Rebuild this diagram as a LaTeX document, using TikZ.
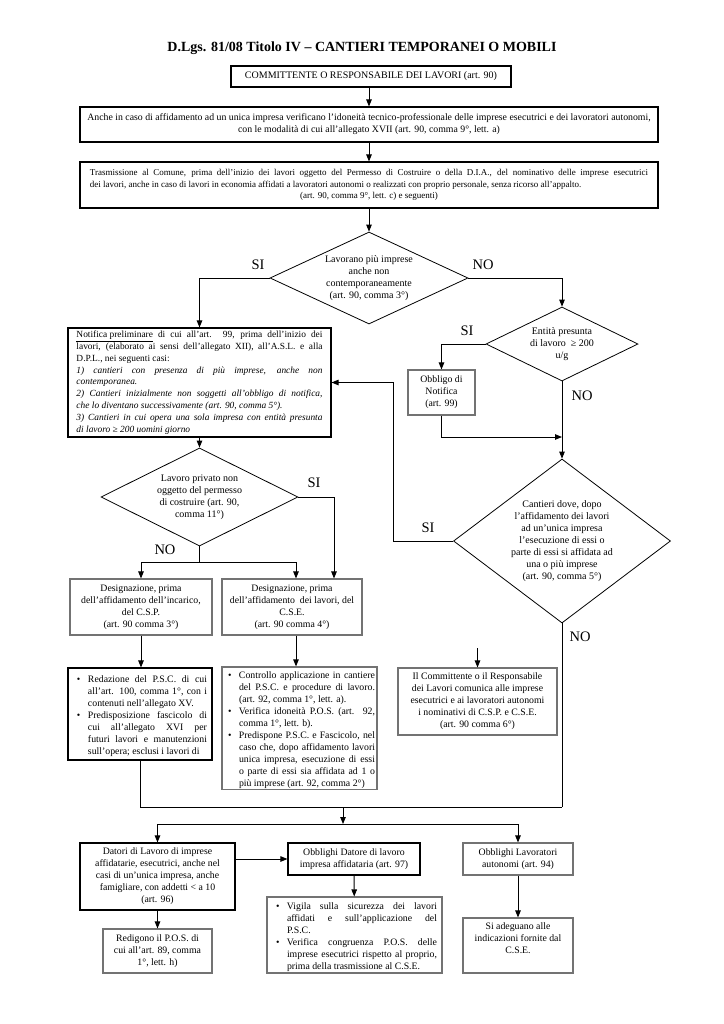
\documentclass[tikz,border=0pt]{standalone}
\usepackage{fontspec}
\setmainfont{Liberation Serif}
\usetikzlibrary{positioning,shapes.geometric,arrows.meta}

\newcommand{\txtsize}{\fontsize{9.8bp}{12bp}\selectfont}
\newcommand{\smallsize}{\fontsize{9bp}{11.6bp}\selectfont}
\newcommand{\lblsize}{\fontsize{14.5bp}{16bp}\selectfont}
\newcommand{\bitem}{\par\hangindent=15bp\hangafter=1\noindent\makebox[15bp][l]{\hspace{4bp}\textbullet}}

\tikzset{
  box/.style={draw=black, line width=1.1bp, rectangle, inner sep=0pt, font=\txtsize, align=center},
  gbox/.style={box, draw=black!55},
  decision/.style={draw, diamond, line width=0.8bp, inner sep=0pt, font=\fontsize{10bp}{12bp}\selectfont, align=center},
  lbl/.style={font=\lblsize, inner sep=0pt},
  conn/.style={line width=0.9bp, -{Triangle[length=7bp,width=5.5bp]}},
  wire/.style={line width=0.9bp},
}

\begin{document}
\begin{tikzpicture}[x=1bp,y=-1bp]
\useasboundingbox (0,0) rectangle (724,1024);

\node[font=\fontsize{14bp}{16bp}\selectfont\bfseries] (title) at (362,48) {D.Lgs. 81/08 Titolo IV -- CANTIERI TEMPORANEI O MOBILI};

\node[box, minimum width=280bp, minimum height=21bp, font=\fontsize{10bp}{12bp}\selectfont] (comm) at (371,76.5) {COMMITTENTE O RESPONSABILE DEI LAVORI (art. 90)};
\node[box, minimum width=578bp, minimum height=35bp] (anche) at (369,124.5) {Anche in caso di affidamento ad un unica impresa verificano l'idoneità tecnico-professionale delle imprese esecutrici e dei lavoratori autonomi,\\con le modalità di cui all'allegato XVII (art. 90, comma 9°, lett. a)};
\node[box, minimum width=578bp, minimum height=46bp, text width=558bp, align=justify, font=\smallsize] (trasm) at (369,185) {Trasmissione al Comune, prima dell'inizio dei lavori oggetto del Permesso di Costruire o della D.I.A., del nominativo delle imprese esecutrici\linebreak dei lavori, anche in caso di lavori in economia affidati a lavoratori autonomi o realizzati con proprio personale, senza ricorso all'appalto.\par
{\centering (art. 90, comma 9°, lett. c) e seguenti)\par}};

\node[decision, minimum width=198bp, minimum height=92bp, aspect=2.15] (d1) at (369,278) {Lavorano più imprese\\anche non\\contemporaneamente\\(art. 90, comma 3°)};
\node[decision, minimum width=152bp, minimum height=74bp, aspect=2.05] (ent) at (562,344) {Entità presunta\\di lavoro \ ≥ 200\\u/g};
\node[decision, minimum width=197bp, minimum height=98bp, aspect=2] (d2) at (199.5,497) {Lavoro privato non\\oggetto del permesso\\di costruire (art. 90,\\comma 11°)};
\node[decision, minimum width=217bp, minimum height=164bp, aspect=1.32] (cant) at (562,541) {Cantieri dove, dopo\\l'affidamento dei lavori\\ad un'unica impresa\\l'esecuzione di essi o\\parte di essi si affidata ad\\una o più imprese\\(art. 90, comma 5°)};

\node[box, minimum width=263bp, minimum height=109bp, text width=246bp, align=justify, font=\fontsize{9.4bp}{11.8bp}\selectfont] (notif) at (199.5,382.5) {\underline{Notifica preliminare} di cui all'art. 99, prima dell'inizio dei\linebreak lavori, (elaborato ai sensi dell'allegato XII), all'A.S.L. e alla\linebreak D.P.L., nei seguenti casi:\par
\textit{1) cantieri con presenza di più imprese, anche non\linebreak contemporanea.}\par
\textit{2) Cantieri inizialmente non soggetti all'obbligo di notifica,\linebreak che lo diventano successivamente (art. 90, comma 5°).}\par
\textit{3) Cantieri in cui opera una sola impresa con entità presunta\linebreak di lavoro ≥ 200 uomini giorno}\par};
\node[gbox, minimum width=67bp, minimum height=45bp] (obbl) at (441.5,392.5) {Obbligo di\\Notifica\\(art. 99)};

\node[gbox, minimum width=142bp, minimum height=56bp] (descsp) at (141,607) {Designazione, prima\\dell'affidamento dell'incarico,\\del C.S.P.\\(art. 90 comma 3°)};
\node[gbox, minimum width=140bp, minimum height=56bp] (descse) at (292,607) {Designazione, prima\\dell'affidamento \ dei lavori, del\\C.S.E.\\(art. 90 comma 4°)};

\node[box, minimum width=144bp, minimum height=92bp, text width=134bp, align=justify] (redaz) at (140,714) {\bitem Redazione del P.S.C. di cui\linebreak all'art. 100, comma 1°, con i\linebreak contenuti nell'allegato XV.
\bitem Predisposizione fascicolo di\linebreak cui all'allegato XVI per\linebreak futuri lavori e manutenzioni\linebreak sull'opera; esclusi i lavori di\par};
\node[gbox, minimum width=155bp, minimum height=120bp, text width=151bp, align=justify] (contr) at (299.5,728) {\bitem Controllo applicazione in cantiere\linebreak del P.S.C. e procedure di lavoro.\linebreak (art. 92, comma 1°, lett. a).
\bitem Verifica idoneità P.O.S. (art. 92,\linebreak comma 1°, lett. b).
\bitem Predispone P.S.C. e Fascicolo, nel\linebreak caso che, dopo affidamento lavori\linebreak unica impresa, esecuzione di essi\linebreak o parte di essi sia affidata ad 1 o\linebreak più imprese (art. 92, comma 2°)\par};
\node[gbox, minimum width=159bp, minimum height=67bp] (ilcomm) at (477.5,701.5) {Il Committente o il Responsabile\\dei Lavori comunica alle imprese\\esecutrici e ai lavoratori autonomi\\i nominativi di C.S.P. e C.S.E.\\(art. 90 comma 6°)};

\node[box, minimum width=155bp, minimum height=67bp] (datori) at (157.5,876.5) {Datori di Lavoro di imprese\\affidatarie, esecutrici, anche nel\\casi di un'unica impresa, anche\\famigliare, con addetti < a 10\\(art. 96)};
\node[box, minimum width=132bp, minimum height=32bp] (obbdat) at (354,859) {Obblighi Datore di lavoro\\impresa affidataria (art. 97)};
\node[gbox, minimum width=110bp, minimum height=32bp] (obblav) at (518,859) {Obblighi Lavoratori\\autonomi (art. 94)};
\node[gbox, minimum width=175bp, minimum height=76bp, text width=165bp, align=justify] (vigila) at (354.5,935) {\bitem Vigila sulla sicurezza dei lavori\linebreak affidati e sull'applicazione del\linebreak P.S.C.
\bitem Verifica congruenza P.O.S. delle\linebreak imprese esecutrici rispetto al proprio,\linebreak prima della trasmissione al C.S.E.\par};
\node[gbox, minimum width=109bp, minimum height=44bp] (redig) at (157.5,951) {Redigono il P.O.S. di\\cui all'art. 89, comma\\1°, lett. h)};
\node[gbox, minimum width=110bp, minimum height=55bp] (adeg) at (518,945.5) {};
\node[font=\txtsize, align=center, anchor=north, inner sep=0pt] (adegtxt) at ([yshift=-5bp]adeg.north) {Si adeguano alle\\indicazioni fornite dal\\C.S.E.};

\node[lbl] (siA) at (258,265) {SI};
\node[lbl] (noA) at (483,265) {NO};
\node[lbl] (siB) at (467,331) {SI};
\node[lbl] (noB) at (582,396) {NO};
\node[lbl] (siC) at (314,483) {SI};
\node[lbl] (noC) at (165,550) {NO};
\node[lbl] (siD) at (428,528) {SI};
\node[lbl] (noD) at (580,637) {NO};

\coordinate (jn1) at (562,437);
\coordinate (jn3) at (562,807);
\coordinate (jn4) at (343,807);
\coordinate (jn5) at (343,824);
\coordinate (jn6) at (477.5,648);

\draw[conn] (comm.south -| anche) -- (anche);
\draw[conn] (anche) -- (trasm);
\draw[conn] (trasm) -- (d1);
\draw[conn] (d1.west) -| (notif.north);
\draw[conn] (d1.east) -| (ent.north);
\draw[conn] (ent.west) -| (obbl.north);
\draw[conn] (obbl.south) |- (jn1);
\draw[conn] (ent.south) -- (cant.north);
\draw[conn] (cant.west) -- ++(-60,0) |- (notif.east);
\draw[conn] (notif.south) -- (d2.north);
\draw[wire] (d2.south) -- ++(0,16) coordinate (jn2);
\draw[conn] (jn2) -| (descsp.north);
\draw[conn] (jn2) -| ([xshift=4bp]descse.north);
\draw[conn] (d2.east) -| ([xshift=42bp]descse.north);
\draw[conn] (descsp.south) -- (descsp.south |- redaz.north);
\draw[conn] ([xshift=4bp]descse.south) -- ([xshift=4bp]descse.south |- contr.north);
\draw[conn] (jn6) -- (ilcomm.north);
\draw[wire] (cant.south) -- (jn3);
\draw[wire] (redaz.south) |- (jn3);
\draw[conn] (jn4) -- (jn5);
\draw[wire] (datori.north |- jn5) -- (obblav.north |- jn5);
\draw[conn] (datori.north |- jn5) -- (datori.north);
\draw[conn] (obblav.north |- jn5) -- (obblav.north);
\draw[conn] (datori.east |- obbdat.west) -- (obbdat.west);
\draw[conn] (obbdat) -- (vigila);
\draw[conn] (datori) -- (redig);
\draw[conn] (obblav) -- (adeg);
\end{tikzpicture}
\end{document}
